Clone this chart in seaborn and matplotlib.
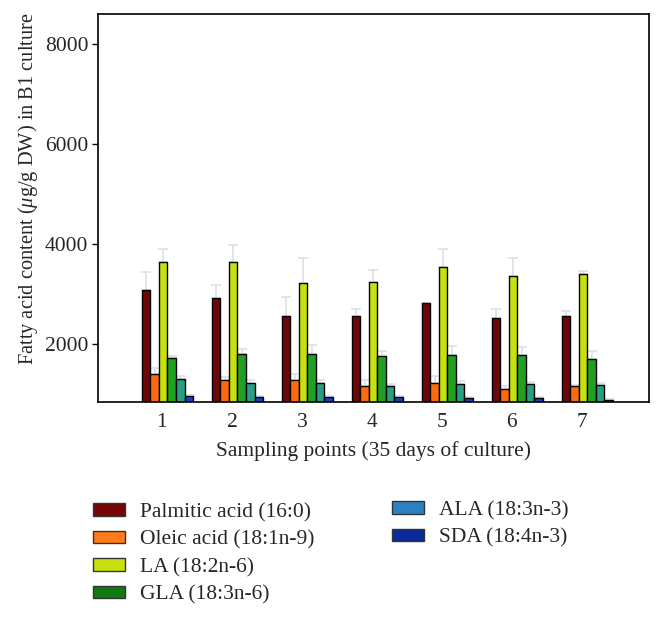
import numpy as np
import pandas as pd
import seaborn as sns
import matplotlib
matplotlib.use("Agg")
import matplotlib.pyplot as plt
from matplotlib.patches import Patch

points = ["1", "2", "3", "4", "5", "6", "7"]
acids = ["Palmitic acid (16:0)", "Oleic acid (18:1n-9)", "LA (18:2n-6)",
         "GLA (18:3n-6)", "ALA (18:3n-3)", "SDA (18:4n-3)"]

palmitic = [3090, 2920, 2573, 2573, 2820, 2527, 2573]
oleic = [1413, 1293, 1293, 1160, 1233, 1113, 1160]
la = [3633, 3633, 3220, 3240, 3547, 3360, 3393]
gla = [1733, 1800, 1800, 1760, 1780, 1780, 1713]
ala = [1307, 1233, 1233, 1160, 1200, 1200, 1180]
sda = [967, 947, 947, 953, 933, 933, 893]

palmitic_err = [343, 253, 374, 140, 0, 186, 87]
oleic_err = [120, 47, 120, 120, 127, 47, 20]
la_err = [274, 347, 493, 247, 353, 353, 74]
gla_err = [40, 113, 193, 107, 187, 173, 154]
ala_err = [60, 47, 60, 40, 67, 53, 47]
sda_err = [10, 10, 10, 10, 10, 10, 5]

values = [palmitic, oleic, la, gla, ala, sda]
errors = [palmitic_err, oleic_err, la_err, gla_err, ala_err, sda_err]

bar_colors = ["#6e0808", "#ff6a10", "#c6e010", "#22a022", "#2a9e80", "#1a3cc0"]
legend_colors = ["#760606", "#ff7a18", "#c8e010", "#127a12", "#2a80c0", "#0a2a9a"]

df = pd.DataFrame({
    "point": [p for v in values for p in points],
    "acid": [a for a, v in zip(acids, values) for _ in v],
    "value": [x for v in values for x in v],
})

sns.set_style("white")
plt.rcParams["font.family"] = ["Liberation Serif", "DejaVu Serif"]
plt.rcParams["mathtext.fontset"] = "custom"
plt.rcParams["mathtext.rm"] = "Liberation Serif"
plt.rcParams["mathtext.it"] = "Liberation Serif:italic"

FS = 15.5

fig = plt.figure(figsize=(6.64, 6.19), dpi=100)
ax = fig.add_axes([98 / 664, 1 - 401.7 / 619, (649 - 98) / 664, (401.7 - 14) / 619])

sns.barplot(data=df, x="point", y="value", hue="acid", hue_order=acids,
            palette=bar_colors, saturation=1, edgecolor="black", linewidth=1.0,
            width=0.73, gap=0, errorbar=None, legend=False, ax=ax, zorder=2)

for cont, err in zip(ax.containers, errors):
    xs = [p.get_x() + p.get_width() / 2 for p in cont.patches]
    ys = [p.get_height() for p in cont.patches]
    ax.errorbar(xs, ys, yerr=[np.zeros(len(err)), err], fmt="none",
                ecolor="#d8e0e8", elinewidth=1.2, capsize=3.5, capthick=1.2,
                zorder=1)

ax.set_ylim(850, 8600)
ax.set_xlim(-0.993, 6.88)
ax.set_yticks([2000, 4000, 6000, 8000])
ax.set_xticks(np.arange(len(points)) - 0.08)
ax.set_xticklabels(points)
ax.tick_params(axis="x", length=0, labelsize=FS, pad=8)
ax.tick_params(axis="y", length=4, width=1, direction="out", labelsize=FS,
               pad=3, left=True, color="black")
for s in ax.spines.values():
    s.set_color("black")
    s.set_linewidth(1.2)
    s.set_zorder(3)

ax.set_xlabel("Sampling points (35 days of culture)", fontsize=FS, labelpad=7)
ax.set_ylabel(r"Fatty acid content ($\mu$g/g DW) in B1 culture", fontsize=14.7)
ax.yaxis.set_label_coords(-0.105, 0.55)

handles = [Patch(facecolor=c, edgecolor="#333333", linewidth=1.0) for c in legend_colors]
common = dict(frameon=False, fontsize=FS, handlelength=1.5, handleheight=0.5,
              handletextpad=0.7, labelspacing=0.38, borderpad=0, borderaxespad=0,
              loc="upper left")
fig.legend(handles[:4], acids[:4], bbox_to_anchor=(93 / 664, 1 - 503 / 619), **common)
fig.legend(handles[4:], acids[4:], bbox_to_anchor=(392 / 664, 1 - 501 / 619), **common)

fig.savefig("out.png", dpi=100)
